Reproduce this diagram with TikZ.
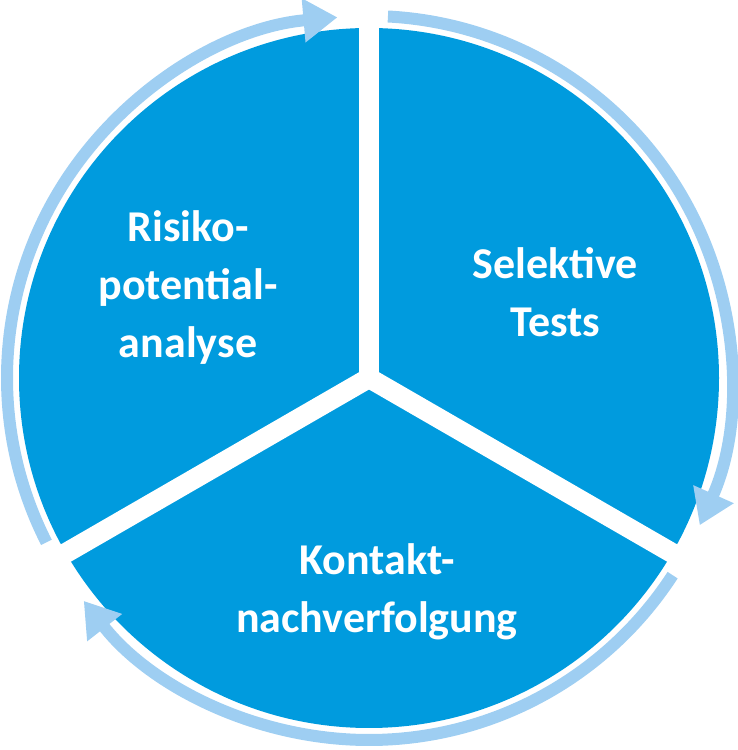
\documentclass[tikz,border=0pt]{standalone}
\usepackage{fontspec}
\setmainfont{Carlito}
\usetikzlibrary{arrows.meta}
\definecolor{pieblue}{HTML}{009BDE}
\definecolor{ringblue}{HTML}{9ECEF2}
\tikzset{
  ring/.style={ringblue, line width=12pt, -{Triangle[length=34pt,width=42pt]}},
  label/.style={white, font=\fontsize{44}{58}\selectfont\bfseries, align=center}
}
\begin{document}
\begin{tikzpicture}[x=1pt,y=1pt]
  \useasboundingbox (0,0) rectangle (738,750);
  \coordinate (c) at (369,372);
  % pie and gaps
  \fill[pieblue] (c) circle (350);
  \foreach \a in {90,210,330}
    \draw[white, line width=20pt] (c) -- ++(\a:370);
  % ring arrows
  \draw[ring] ([shift={(207:362)}]c) arc[start angle=207, end angle=95, radius=362];
  \draw[ring] ([shift={(87:362)}]c) arc[start angle=87, end angle=-24, radius=362];
  \draw[ring] ([shift={(-33:362)}]c) arc[start angle=-33, end angle=-142, radius=362];
  % labels
  \node[label] (risk) at (188,462) {Risiko-\\potential-\\analyse};
  \node[label] (tests) at (555,458) {Selektive\\Tests};
  \node[label] (contact) at (377,158) {Kontakt-\\nachverfolgung};
\end{tikzpicture}
\end{document}
